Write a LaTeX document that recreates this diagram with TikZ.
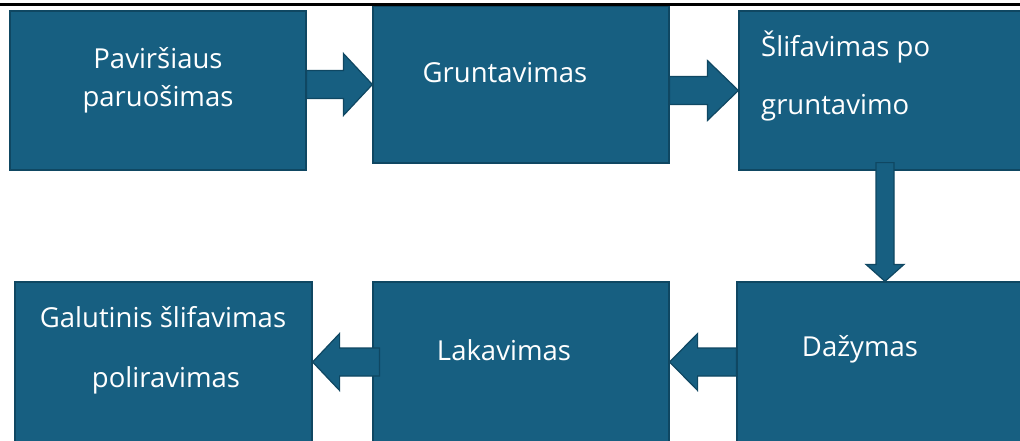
\documentclass[tikz,border=0pt]{standalone}
\usepackage{fontspec}
\setmainfont{Open Sans}
\usetikzlibrary{calc}
\definecolor{boxfill}{HTML}{175F81}
\definecolor{boxedge}{HTML}{0F4762}
\tikzset{
  stepbox/.style={rectangle, fill=boxfill, draw=boxedge, line width=1.2pt, inner sep=0pt},
  barrow/.style={fill=boxfill, draw=boxedge, line width=1.2pt, line join=miter},
  lbl/.style={text=white, font=\fontsize{27.5}{32}\selectfont, inner sep=0pt, anchor=center},
}
\begin{document}
\begin{tikzpicture}[x=1pt,y=-1pt]
\useasboundingbox (0,0) rectangle (1020,440);
% boxes
\node[stepbox, minimum width=296pt, minimum height=159pt] (b1) at (158,90.5) {};
\node[stepbox, minimum width=296pt, minimum height=157pt] (b2) at (521,84.5) {};
\node[stepbox, minimum width=296pt, minimum height=159pt] (b3) at (887,90.5) {};
\node[stepbox, minimum width=297pt, minimum height=160pt] (b4) at (163.5,362) {};
\node[stepbox, minimum width=296pt, minimum height=160pt] (b5) at (521,362) {};
\node[stepbox, minimum width=296pt, minimum height=160pt] (b6) at (885,362) {};
% top rule
\draw[line width=2.6pt, black] (0,4.2) -- (1020,4.2);
% labels
\node[lbl] (t1a) at (158,58) {Paviršiaus};
\node[lbl] (t1b) at (158,99) {paruošimas};
\node[lbl] (t2) at (505,73) {Gruntavimas};
\node[lbl, anchor=west] (t3a) at (761,47) {Šlifavimas po};
\node[lbl, anchor=west] (t3b) at (761,108) {gruntavimo};
\node[lbl] (t4a) at (163,317) {Galutinis šlifavimas};
\node[lbl] (t4b) at (166,380) {poliravimas};
\node[lbl] (t5) at (504,350) {Lakavimas};
\node[lbl] (t6) at (860,349) {Dažymas};
% arrows
\draw[barrow] ($(b1.east|-b2.west)+(0,-14)$) -- ($(b2.west)+(-29,-14)$) -- ($(b2.west)+(-29,-31)$) -- (b2.west)
  -- ($(b2.west)+(-29,31)$) -- ($(b2.west)+(-29,14)$) -- ($(b1.east|-b2.west)+(0,14)$) -- cycle;
\draw[barrow] ($(b2.east|-b3.west)+(0,-14)$) -- ($(b3.west)+(-31,-14)$) -- ($(b3.west)+(-31,-30)$) -- (b3.west)
  -- ($(b3.west)+(-31,30)$) -- ($(b3.west)+(-31,14)$) -- ($(b2.east|-b3.west)+(0,14)$) -- cycle;
\draw[barrow] ($(b6.north|-b3.south)+(-9,-8)$) -- ($(b6.north)+(-9,-17)$) -- ($(b6.north)+(-19,-17)$) -- (b6.north)
  -- ($(b6.north)+(19,-17)$) -- ($(b6.north)+(9,-17)$) -- ($(b6.north|-b3.south)+(9,-8)$) -- cycle;
\draw[barrow] ($(b6.west|-b5.east)+(0,-14)$) -- ($(b5.east)+(28,-14)$) -- ($(b5.east)+(28,-28.5)$) -- (b5.east)
  -- ($(b5.east)+(28,28.5)$) -- ($(b5.east)+(28,14)$) -- ($(b6.west|-b5.east)+(0,14)$) -- cycle;
\draw[barrow] ($(b5.west|-b4.east)+(7,-14)$) -- ($(b4.east)+(27,-14)$) -- ($(b4.east)+(27,-28.5)$) -- (b4.east)
  -- ($(b4.east)+(27,28.5)$) -- ($(b4.east)+(27,14)$) -- ($(b5.west|-b4.east)+(7,14)$) -- cycle;
\end{tikzpicture}
\end{document}
